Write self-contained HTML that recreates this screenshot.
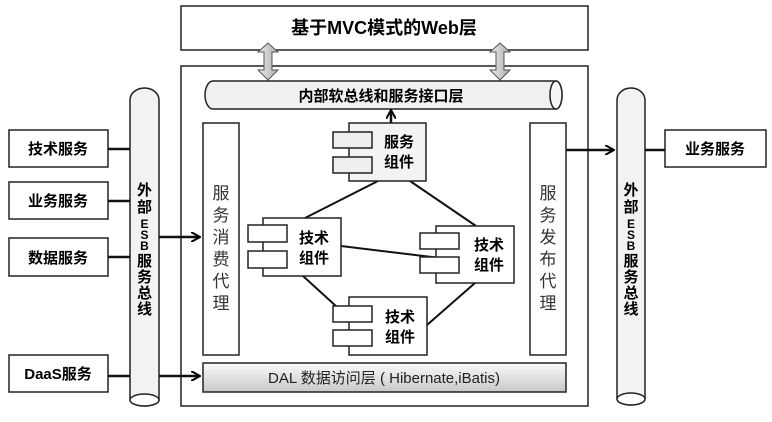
<!DOCTYPE html>
<html><head><meta charset="utf-8"><style>
body{margin:0;background:#fff;width:772px;height:422px;overflow:hidden}
svg{display:block}
text{font-family:"Liberation Sans","Noto Sans CJK SC",sans-serif}
.b{font-weight:bold;font-size:15px}
</style></head><body>
<svg width="772" height="422" viewBox="0 0 772 422">
<defs>
<linearGradient id="g" x1="0" y1="0" x2="0" y2="1"><stop offset="0" stop-color="#fafafa"/><stop offset="1" stop-color="#c8c8c8"/></linearGradient>
<linearGradient id="ga" x1="0" y1="0" x2="1" y2="0"><stop offset="0" stop-color="#eee"/><stop offset="1" stop-color="#aaa"/></linearGradient>
<marker id="ar" markerWidth="10" markerHeight="10" refX="8" refY="5" orient="auto" markerUnits="userSpaceOnUse"><path d="M0,0 L9,5 L0,10" fill="none" stroke="#000" stroke-width="2"/></marker>
</defs>
<g stroke="#222" stroke-width="1.5" fill="#fff">
<rect x="181" y="6" width="407" height="44"/>
<rect x="181" y="66" width="407" height="340"/>
</g>
<text x="384" y="34" text-anchor="middle" font-size="18" font-weight="bold">基于MVC模式的Web层</text>
<!-- double arrows -->
<g fill="url(#ga)" stroke="#555" stroke-width="1">
<path d="M268,43 l-10,9 h6 v18 h-6 l10,10 l10,-10 h-6 v-18 h6 z"/>
<path d="M500,43 l-10,9 h6 v18 h-6 l10,10 l10,-10 h-6 v-18 h6 z"/>
</g>
<!-- internal bus -->
<path d="M213,81 H556 A6,14 0 0 1 556,109 H213 A8,14 0 0 1 213,81 Z" fill="#f0f0f0" stroke="#222" stroke-width="1.5"/>
<ellipse cx="556" cy="95" rx="6" ry="14" fill="#f5f5f5" stroke="#222" stroke-width="1.5"/>
<text x="381" y="101" text-anchor="middle" class="b" font-size="14">内部软总线和服务接口层</text>
<!-- ESB cylinders -->
<g stroke="#222" stroke-width="1.5" fill="#f2f2f2">
<path d="M130,100 A14.5,12 0 0 1 159,100 V400 A14.5,6 0 0 1 130,400 Z"/>
<ellipse cx="144.5" cy="400" rx="14.5" ry="6" fill="#fff"/>
<path d="M617,100 A14,12 0 0 1 645,100 V399 A14,6 0 0 1 617,399 Z"/>
<ellipse cx="631" cy="399" rx="14" ry="6" fill="#fff"/>
</g>
<g class="b" text-anchor="middle" font-size="15">
<text x="144.5" y="195">外</text><text x="144.5" y="212">部</text>
<text x="144.5" y="228" font-size="12">E</text><text x="144.5" y="239" font-size="12">S</text><text x="144.5" y="250" font-size="12">B</text>
<text x="144.5" y="266">服</text><text x="144.5" y="282">务</text><text x="144.5" y="298">总</text><text x="144.5" y="314">线</text>
<text x="631" y="195">外</text><text x="631" y="212">部</text>
<text x="631" y="228" font-size="12">E</text><text x="631" y="239" font-size="12">S</text><text x="631" y="250" font-size="12">B</text>
<text x="631" y="266">服</text><text x="631" y="282">务</text><text x="631" y="298">总</text><text x="631" y="314">线</text>
</g>
<!-- left boxes -->
<g stroke="#222" stroke-width="1.5" fill="#fff">
<rect x="9" y="130" width="99" height="37"/><rect x="9" y="182" width="99" height="37"/>
<rect x="9" y="238" width="99" height="38"/><rect x="9" y="355" width="99" height="37"/>
<rect x="665" y="130" width="101" height="37"/>
</g>
<g stroke="#111" stroke-width="2.5">
<line x1="108" y1="149" x2="130" y2="149"/><line x1="108" y1="201" x2="130" y2="201"/>
<line x1="108" y1="257" x2="130" y2="257"/><line x1="108" y1="376" x2="130" y2="376"/>
<line x1="645" y1="150" x2="665" y2="150"/>
<line x1="159" y1="237" x2="199" y2="237" marker-end="url(#ar)"/>
<line x1="159" y1="376" x2="199" y2="376" marker-end="url(#ar)"/>
<line x1="548" y1="150" x2="613" y2="150" marker-end="url(#ar)"/>
<line x1="391" y1="123" x2="391" y2="111" marker-end="url(#ar)"/>
</g>
<g class="b" text-anchor="middle">
<text x="58" y="154">技术服务</text><text x="58" y="206">业务服务</text>
<text x="58" y="263">数据服务</text><text x="58" y="379">DaaS服务</text>
<text x="715" y="154">业务服务</text>
</g>
<!-- proxies -->
<g stroke="#222" stroke-width="1.5" fill="#fff">
<rect x="203" y="123" width="36" height="232"/>
<rect x="530" y="123" width="36" height="232"/>
</g>
<g text-anchor="middle" font-size="17" fill="#333">
<text x="221" y="199">服</text><text x="221" y="221">务</text><text x="221" y="243">消</text><text x="221" y="265">费</text><text x="221" y="287">代</text><text x="221" y="309">理</text>
<text x="548" y="199">服</text><text x="548" y="221">务</text><text x="548" y="243">发</text><text x="548" y="265">布</text><text x="548" y="287">代</text><text x="548" y="309">理</text>
</g>
<!-- DAL -->
<rect x="203" y="363" width="363" height="29" fill="url(#g)" stroke="#222" stroke-width="1.5"/>
<text x="384" y="383" text-anchor="middle" font-size="15" fill="#222">DAL 数据访问层 ( Hibernate,iBatis)</text>
<!-- connection lines -->
<g stroke="#111" stroke-width="2">
<line x1="378" y1="181" x2="305" y2="218"/>
<line x1="410" y1="181" x2="476" y2="226"/>
<line x1="341" y1="246" x2="440" y2="258"/>
<line x1="303" y1="276" x2="337" y2="307"/>
<line x1="427" y1="325" x2="475" y2="283"/>
</g>
<!-- components -->
<g stroke="#222" stroke-width="1.5">
<rect x="349" y="123" width="77" height="58" fill="#f3f3f3"/>
<rect x="333" y="132" width="39" height="16" fill="#eee"/><rect x="333" y="157" width="39" height="16" fill="#eee"/>
<rect x="263" y="218" width="78" height="58" fill="#fff"/>
<rect x="248" y="225" width="39" height="17" fill="#fff"/><rect x="248" y="251" width="39" height="17" fill="#fff"/>
<rect x="436" y="226" width="78" height="57" fill="#fff"/>
<rect x="420" y="233" width="39" height="16" fill="#fff"/><rect x="420" y="257" width="39" height="16" fill="#fff"/>
<rect x="349" y="297" width="78" height="58" fill="#fff"/>
<rect x="333" y="306" width="39" height="16" fill="#fff"/><rect x="333" y="330" width="39" height="16" fill="#fff"/>
</g>
<g class="b" text-anchor="middle" font-size="15">
<text x="399" y="147">服务</text><text x="399" y="167">组件</text>
<text x="314" y="243">技术</text><text x="314" y="263">组件</text>
<text x="489" y="250">技术</text><text x="489" y="270">组件</text>
<text x="400" y="322">技术</text><text x="400" y="342">组件</text>
</g>
</svg>
</body></html>
